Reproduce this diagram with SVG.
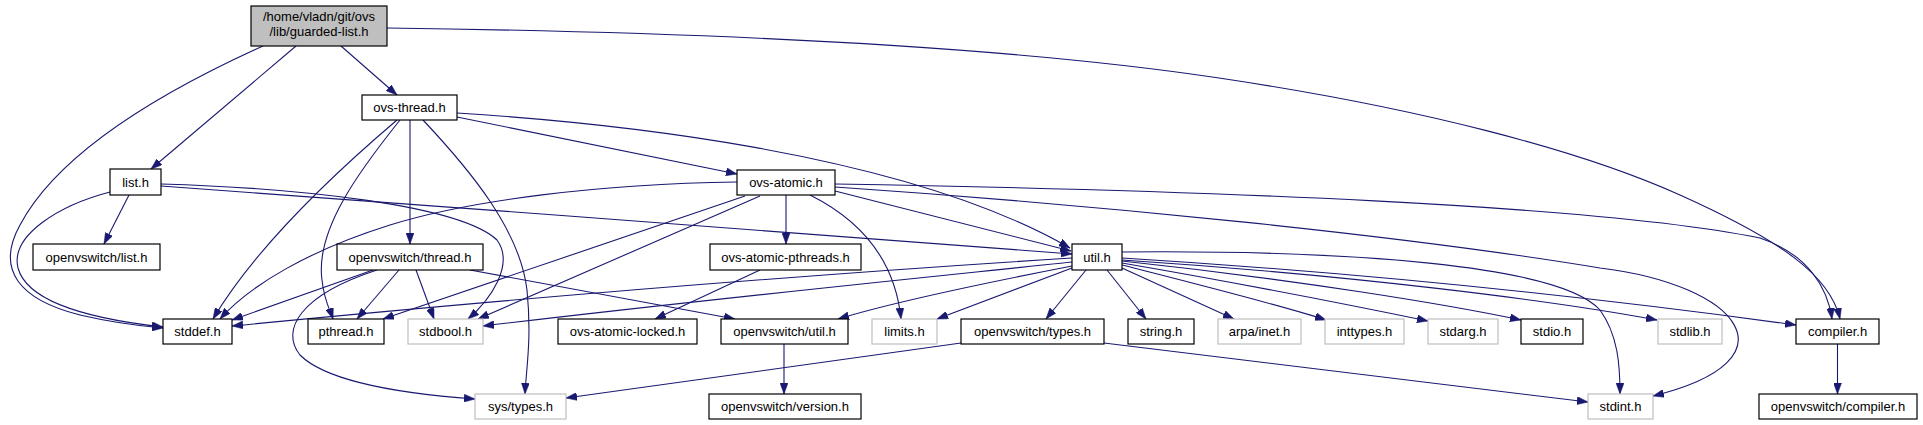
<svg xmlns="http://www.w3.org/2000/svg" width="1923" height="425" viewBox="0 0 1923 425">
<style>
.n rect{fill:#fff;stroke:#000;stroke-width:1.2}
.n.g rect{stroke:#bfbfbf}
.n.root rect{fill:#bfbfbf}
.n text{font-family:"Liberation Sans",Arial,Helvetica,sans-serif;font-size:13px;text-anchor:middle;fill:#000}
#edges path{fill:none;stroke:#191970;stroke-width:1.1;marker-end:url(#ah)}
</style>
<defs>
<marker id="ah" viewBox="0 0 11 8" refX="11" refY="4" markerWidth="11" markerHeight="8" markerUnits="userSpaceOnUse" orient="auto">
<path d="M0,0 L11,4 L0,8 z" fill="#191970" stroke="#191970" stroke-width="0.5"/>
</marker>
</defs>
<rect width="1923" height="425" fill="#fff"/>
<g id="edges">
<path d="M341,46 L397,95"/>
<path d="M296,46 L151,169"/>
<path d="M263,46 C170,88 60,150 20,225 C-5,270 20,300 80,315 C110,322 140,326 163,328"/>
<path d="M387,28 C700,32 1000,45 1219,78 C1420,108 1580,150 1680,195 C1780,240 1830,275 1840,319"/>
<path d="M457,117 L737,174"/>
<path d="M457,113 C600,122 900,150 1070,248"/>
<path d="M397,120 C350,160 260,240 213,319"/>
<path d="M400,120 C360,170 315,230 322,280 C324,300 330,310 333,319"/>
<path d="M410,120 L410,244"/>
<path d="M423,120 C470,170 520,230 527,290 C532,340 526,370 525,394"/>
<path d="M129,195 L104,244"/>
<path d="M110,192 C60,205 10,235 18,268 C28,305 100,320 163,327"/>
<path d="M161,184 C300,188 460,205 497,240 C515,265 490,300 468,319"/>
<path d="M161,186 C450,207 800,233 1072,254"/>
<path d="M737,182 C600,184 470,200 390,225 C310,250 250,285 220,319"/>
<path d="M745,196 L383,319"/>
<path d="M760,196 L478,319"/>
<path d="M786,195 L786,244"/>
<path d="M810,195 C860,220 895,260 901,319"/>
<path d="M835,191 L1071,251"/>
<path d="M835,187 C1100,205 1400,235 1600,268 C1740,285 1800,360 1653,396"/>
<path d="M835,184 C1200,190 1600,205 1760,238 C1810,255 1828,290 1832,319"/>
<path d="M373,270 L232,320"/>
<path d="M399,270 L357,319"/>
<path d="M416,270 L434,319"/>
<path d="M470,270 L735,319"/>
<path d="M377,270 C300,295 280,330 300,355 C330,385 420,395 475,399"/>
<path d="M760,270 L655,319"/>
<path d="M1072,258 C800,275 500,300 232,326"/>
<path d="M1072,262 C900,280 700,300 483,326"/>
<path d="M1072,266 C1000,280 900,300 838,319"/>
<path d="M1072,268 L937,319"/>
<path d="M1086,270 L1046,319"/>
<path d="M1107,270 L1146,319"/>
<path d="M1122,268 L1234,319"/>
<path d="M1122,265 C1200,285 1280,305 1326,320"/>
<path d="M1122,263 C1250,285 1350,305 1428,321"/>
<path d="M1122,261 C1300,280 1450,305 1521,320"/>
<path d="M1122,260 C1350,275 1550,300 1657,320"/>
<path d="M1122,258 C1400,275 1650,305 1796,325"/>
<path d="M1122,252 C1350,250 1560,265 1600,310 C1618,335 1620,365 1620,394"/>
<path d="M784,344 L784,394"/>
<path d="M961,343 L566,398"/>
<path d="M1104,343 L1588,402"/>
<path d="M1837.5,344 L1837.5,394"/>
</g>
<g id="n_guarded" class="n root"><rect x="251" y="6" width="136" height="40"/><text x="319" y="21">/home/vladn/git/ovs</text><text x="319" y="36">/lib/guarded-list.h</text></g>
<g id="n_ovs_thread" class="n"><rect x="362" y="95" width="95" height="25"/><text x="409.5" y="112">ovs-thread.h</text></g>
<g id="n_list" class="n"><rect x="110" y="169" width="51" height="26"/><text x="135.5" y="187">list.h</text></g>
<g id="n_ovs_list" class="n"><rect x="33" y="244" width="127" height="26"/><text x="96.5" y="262">openvswitch/list.h</text></g>
<g id="n_ovs_thread2" class="n"><rect x="337" y="244" width="146" height="26"/><text x="410" y="262">openvswitch/thread.h</text></g>
<g id="n_ovs_atomic" class="n"><rect x="737" y="170" width="98" height="25"/><text x="786" y="187">ovs-atomic.h</text></g>
<g id="n_ovs_atomic_pthreads" class="n"><rect x="710" y="244" width="151" height="26"/><text x="785.5" y="262">ovs-atomic-pthreads.h</text></g>
<g id="n_util" class="n"><rect x="1072" y="244" width="50" height="26"/><text x="1097" y="262">util.h</text></g>
<g id="n_stddef" class="n"><rect x="163" y="319" width="69" height="25"/><text x="197.5" y="336">stddef.h</text></g>
<g id="n_pthread" class="n"><rect x="308" y="319" width="76" height="25"/><text x="346" y="336">pthread.h</text></g>
<g id="n_stdbool" class="n g"><rect x="408" y="319" width="75" height="25"/><text x="445.5" y="336">stdbool.h</text></g>
<g id="n_ovs_atomic_locked" class="n"><rect x="558" y="319" width="139" height="25"/><text x="627.5" y="336">ovs-atomic-locked.h</text></g>
<g id="n_ovs_util" class="n"><rect x="721" y="319" width="127" height="25"/><text x="784.5" y="336">openvswitch/util.h</text></g>
<g id="n_limits" class="n g"><rect x="872" y="319" width="65" height="25"/><text x="904.5" y="336">limits.h</text></g>
<g id="n_ovs_types" class="n"><rect x="961" y="319" width="143" height="25"/><text x="1032.5" y="336">openvswitch/types.h</text></g>
<g id="n_string" class="n"><rect x="1128" y="319" width="66" height="25"/><text x="1161" y="336">string.h</text></g>
<g id="n_arpa" class="n g"><rect x="1218" y="319" width="83" height="25"/><text x="1259.5" y="336">arpa/inet.h</text></g>
<g id="n_inttypes" class="n g"><rect x="1325" y="319" width="79" height="25"/><text x="1364.5" y="336">inttypes.h</text></g>
<g id="n_stdarg" class="n g"><rect x="1428" y="319" width="70" height="25"/><text x="1463" y="336">stdarg.h</text></g>
<g id="n_stdio" class="n"><rect x="1521" y="319" width="62" height="25"/><text x="1552" y="336">stdio.h</text></g>
<g id="n_stdlib" class="n g"><rect x="1658" y="319" width="64" height="25"/><text x="1690" y="336">stdlib.h</text></g>
<g id="n_compiler" class="n"><rect x="1796" y="319" width="83" height="25"/><text x="1837.5" y="336">compiler.h</text></g>
<g id="n_sys_types" class="n g"><rect x="475" y="394" width="91" height="25"/><text x="520.5" y="411">sys/types.h</text></g>
<g id="n_ovs_version" class="n"><rect x="709" y="394" width="152" height="25"/><text x="785" y="411">openvswitch/version.h</text></g>
<g id="n_stdint" class="n g"><rect x="1588" y="394" width="65" height="25"/><text x="1620.5" y="411">stdint.h</text></g>
<g id="n_ovs_compiler" class="n"><rect x="1759" y="394" width="158" height="25"/><text x="1838" y="411">openvswitch/compiler.h</text></g>
</svg>
